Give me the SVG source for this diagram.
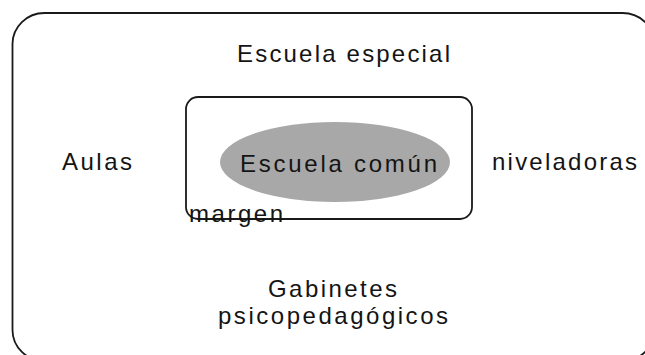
<svg xmlns="http://www.w3.org/2000/svg" width="645" height="355" viewBox="0 0 645 355">
<style>
.t{font-family:"Liberation Sans",Arial,sans-serif;font-size:24px;fill:#141414}
.box{fill:none;stroke:#1a1a1a;stroke-width:1.8}
</style>
<rect width="645" height="355" fill="#ffffff"/>
<g id="escuela-especial">
<rect class="box" x="12.5" y="13" width="642" height="348" rx="32" ry="31"/>
<text class="t" x="237" y="62" textLength="213" lengthAdjust="spacing">Escuela especial</text>
</g>
<g id="margen">
<rect class="box" x="186" y="97" width="286" height="122" rx="12" ry="12"/>
</g>
<g id="escuela-comun">
<ellipse cx="335" cy="162" rx="115" ry="40" fill="#a8a8a8"/>
<text class="t" x="240" y="172" textLength="197" lengthAdjust="spacing">Escuela común</text>
</g>
<g id="margen-label">
<text class="t" x="189" y="222" textLength="94" lengthAdjust="spacing">margen</text>
</g>
<g id="aulas">
<text class="t" x="62" y="170" textLength="70" lengthAdjust="spacing">Aulas</text>
</g>
<g id="niveladoras">
<text class="t" x="492" y="170" textLength="145" lengthAdjust="spacing">niveladoras</text>
</g>
<g id="gabinetes">
<text class="t" x="268" y="297" textLength="129" lengthAdjust="spacing">Gabinetes</text>
<text class="t" x="218" y="324" textLength="230" lengthAdjust="spacing">psicopedagógicos</text>
</g>
<g id="connectors"></g>
</svg>
